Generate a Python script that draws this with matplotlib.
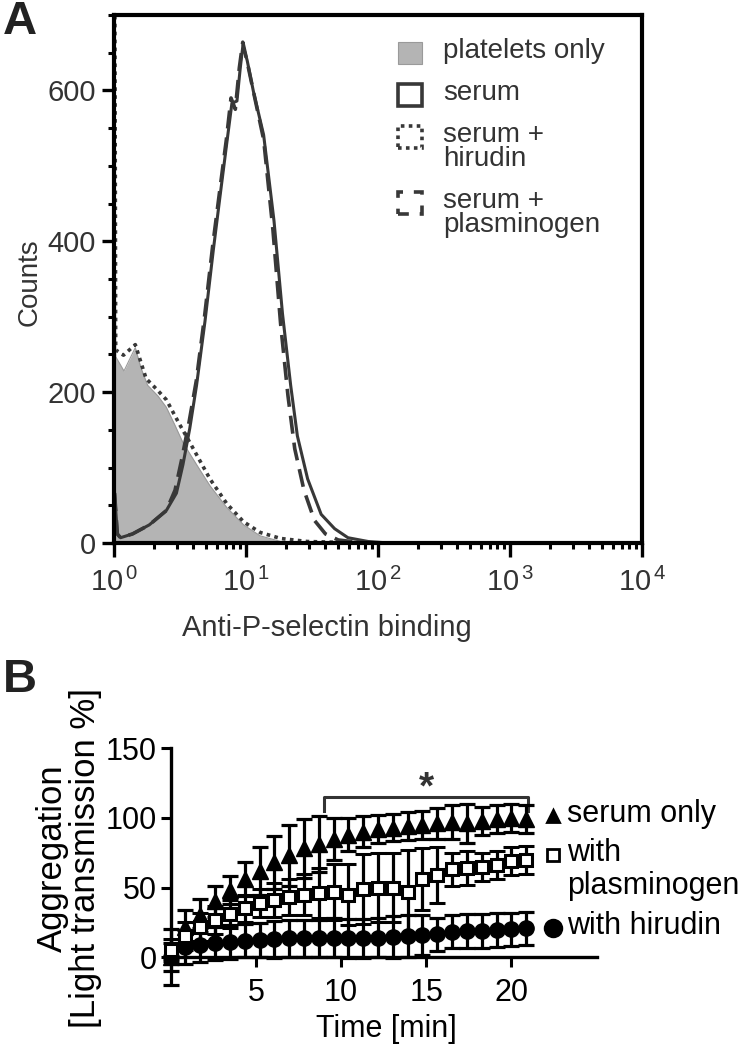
import numpy as np
import matplotlib
matplotlib.use("Agg")
import matplotlib.pyplot as plt
from matplotlib.patches import Rectangle
from matplotlib.lines import Line2D
from matplotlib.ticker import FixedLocator, FuncFormatter, LogLocator, NullFormatter

plt.rcParams['font.family'] = ['Liberation Sans', 'DejaVu Sans']
plt.rcParams['mathtext.fontset'] = 'custom'
plt.rcParams['mathtext.rm'] = 'Liberation Sans'

W, H = 742, 1046
def fx(px):
    return px / W
def fy(py):
    return 1 - py / H

# ---- panel A: flow cytometry histograms ----
platelets_x = [1.012, 1.03, 1.19, 1.30, 1.45, 1.60, 1.80, 2.15, 2.49, 2.88, 3.33, 4.22,
               5.33, 7.16, 9.6, 12.8, 18.3, 26, 40, 10000]
platelets_counts = [720, 247, 228, 242, 259, 232, 209, 195, 180, 157, 133, 104,
                    76, 47, 24, 9.5, 2, 1, 0, 0]

hirudin_hist_x = [1.015, 1.03, 1.18, 1.45, 1.75, 2.1, 2.49, 3.1, 3.9, 5.33, 7.16, 9.6,
                  12.8, 18.3, 29, 47, 100, 10000]
hirudin_hist_counts = [720, 256, 249, 263, 218, 204, 190, 159, 128, 85, 52, 28,
                       14, 6, 2, 1, 0, 0]

serum_x = [1.01, 1.06, 1.12, 1.38, 1.85, 2.49, 2.97, 3.33, 3.75, 4.22, 4.89, 5.66, 6.36,
           7.16, 7.82, 8.54, 9.05, 9.48, 10.2, 11.4, 13.6, 16.3, 18.9, 21.8, 24.5, 29.3,
           37.1, 46.9, 59.2, 84.2, 120, 10000]
serum_counts = [66, 12, 7, 12, 24, 43, 66, 104, 152, 209, 294, 389, 460,
                531, 583, 586, 630, 660, 640, 598, 541, 427, 304, 209, 142, 85,
                38, 19, 7, 2, 0, 0]

plasmin_x = [1.01, 1.06, 1.12, 1.38, 1.85, 2.49, 2.9, 3.25, 3.7, 4.2, 4.85, 5.6, 6.3,
             7.1, 7.7, 8.3, 8.9, 9.45, 10.2, 11.4, 13.6, 16.0, 18.3, 20.8, 23.4, 27.5,
             33.0, 40.0, 50.0, 70.0, 100, 10000]
plasmin_counts = [66, 12, 7, 12, 24, 43, 70, 110, 160, 215, 300, 395, 465,
                  535, 590, 575, 630, 664, 638, 598, 535, 415, 290, 195, 125, 70,
                  30, 12, 4, 1, 0, 0]

legend_a_labels = ["platelets only", "serum", "serum +\nhirudin", "serum +\nplasminogen"]

# ---- panel B: aggregation time course ----
time_min = [0.0, 0.87, 1.74, 2.61, 3.48, 4.35, 5.22, 6.09, 6.96, 7.83, 8.70, 9.57, 10.43,
            11.30, 12.17, 13.04, 13.91, 14.78, 15.65, 16.52, 17.39, 18.26, 19.13, 20.0, 20.87]

serum_only = [0, 22, 30, 40, 48.5, 56, 62, 68, 73, 78, 81, 85, 88,
              90, 92, 93, 94, 95, 96, 97, 96, 98, 99, 100, 99]
serum_only_err = [20, 12, 12, 11, 10, 12, 17, 19, 22, 21, 20, 15, 12,
                  11, 10, 10, 10, 10, 11, 12, 14, 10, 10, 10, 10]

plasminogen = [5, 15, 22, 27, 31, 35, 39, 41, 43, 45, 46, 47, 45,
               49, 50, 50, 47, 56, 59, 63, 64, 65, 66, 69, 70]
plasminogen_err = [8, 10, 10, 10, 10, 10, 10, 12, 13, 15, 18, 20, 22,
                   25, 25, 25, 30, 22, 20, 12, 12, 10, 10, 10, 10]

hirudin = [0, 7.5, 8.7, 10, 11, 12, 12.3, 12.8, 13.5, 13.5, 13.5, 14, 13.5,
           13.5, 14, 14.7, 15.2, 16, 16.4, 18.4, 18.8, 19, 19.6, 20, 20.8]
hirudin_err = [10, 12, 12, 12, 12, 12, 12, 13, 13, 13, 13, 14, 14,
               14, 14, 15, 15, 14, 12, 12, 12, 12, 12, 12, 12]

legend_b_labels = ["serum only", "with\nplasminogen", "with hirudin"]
sig_range = (9.0, 21.0)
sig_level = 115

gray_txt = '#333333'
line_c = '#383838'

fig = plt.figure(figsize=(W / 100, H / 100), dpi=100)

# ================= Panel A =================
axA = fig.add_axes([fx(114), fy(543), fx(642) - fx(114), fy(15) - fy(543)])
axA.fill_between(platelets_x, platelets_counts, 0, color='#b4b4b4', lw=0, zorder=1)
axA.plot(platelets_x, platelets_counts, color='#9a9a9a', lw=0.8, zorder=1.5)
axA.plot(hirudin_hist_x, hirudin_hist_counts, color=line_c, lw=2.6, ls=(0, (1, 1.2)), zorder=2)
axA.plot(plasmin_x, plasmin_counts, color=line_c, lw=2.6, ls=(0, (5, 2.5)), zorder=2)
axA.plot(serum_x, serum_counts, color=line_c, lw=2.2, zorder=2.2)

axA.set_xscale('log')
axA.set_xlim(1, 1e4)
axA.set_ylim(0, 700)
axA.yaxis.set_major_locator(FixedLocator([0, 200, 400, 600]))
axA.yaxis.set_minor_locator(FixedLocator(np.arange(0, 701, 50)))
axA.xaxis.set_major_locator(FixedLocator([1, 10, 100, 1000, 10000]))
axA.xaxis.set_minor_locator(LogLocator(base=10, subs=np.arange(2, 10), numticks=20))
axA.xaxis.set_minor_formatter(NullFormatter())
axA.xaxis.set_major_formatter(FuncFormatter(lambda v, p: r'$\mathregular{10^{\,%d}}$' % round(np.log10(v))))
for s in axA.spines.values():
    s.set_linewidth(3.0)
    s.set_color('black')
axA.tick_params(which='major', direction='out', length=9, width=2.4, color='black',
                labelsize=21, labelcolor=gray_txt, pad=4)
axA.tick_params(which='minor', direction='out', length=4.5, width=2.2, color='black')
axA.tick_params(axis='x', which='major', length=10, pad=8)

fig.text(fx(30), fy(282), "Counts", rotation=90, ha='center', va='center',
         fontsize=20, color=gray_txt)
fig.text(fx(327), fy(628), "Anti-P-selectin binding", ha='center', va='center',
         fontsize=21, color=gray_txt)
fig.text(fx(3), fy(22), "A", ha='left', va='center', fontsize=34, fontweight='bold',
         color='#222222')

# legend A (drawn by hand so the key sits beside the first text line)
key_styles = [dict(fc='#b4b4b4', ec='#9a9a9a', lw=0.8),
              dict(fc='none', ec=line_c, lw=2.6),
              dict(fc='none', ec=line_c, lw=2.6, ls=(0, (1, 1.2))),
              dict(fc='none', ec=line_c, lw=2.6, ls=(0, (3, 3)))]
key_rows = [53, 95, 137, 203]
for style, lab, yc in zip(key_styles, legend_a_labels, key_rows):
    fig.patches.append(Rectangle((fx(398), fy(yc + 11)), fx(24), fy(0) - fy(22),
                                 transform=fig.transFigure, **style))
    fig.text(fx(443), fy(yc - 15), lab, ha='left', va='top', fontsize=20,
             color=gray_txt, linespacing=0.92)

# ================= Panel B =================
narrow = ['Liberation Sans Narrow', 'Liberation Sans', 'DejaVu Sans']
axB = fig.add_axes([fx(170.6), fy(988), fx(596.6) - fx(170.6), fy(748) - fy(988)])
eb = dict(color='black', elinewidth=2.3, capsize=6, capthick=2.3, ls='none')
conts = []
conts.append(axB.errorbar(time_min, serum_only, yerr=serum_only_err, marker='^', ms=11,
                          mfc='black', mec='black', zorder=3, **eb))
conts.append(axB.errorbar(time_min, hirudin, yerr=hirudin_err, marker='o', ms=11,
                          mfc='black', mec='black', zorder=3, **eb))
conts.append(axB.errorbar(time_min, plasminogen, yerr=plasminogen_err, marker='s', ms=8.5,
                          mfc='white', mec='black', mew=2.2, zorder=4, **eb))
for c in conts:
    for art in c.get_children():
        art.set_clip_on(False)

# significance bracket
axB.plot([sig_range[0], sig_range[0], sig_range[1], sig_range[1]],
         [sig_level - 10, sig_level, sig_level, sig_level - 10], color='#333333', lw=2.2,
         clip_on=False)
axB.text(np.mean(sig_range), sig_level + 6, "*", ha='center', va='center', fontsize=28,
         fontweight='bold', color='#333333')

axB.set_xlim(0, 25)
axB.set_ylim(-22, 150)
axB.spines['top'].set_visible(False)
axB.spines['right'].set_visible(False)
axB.spines['bottom'].set_position(('data', 0))
axB.spines['left'].set_bounds(0, 150)
for s in ('left', 'bottom'):
    axB.spines[s].set_linewidth(2.4)
axB.set_xticks([5, 10, 15, 20])
axB.set_yticks([0, 50, 100, 150])
axB.tick_params(direction='out', length=7, width=2.2, labelsize=22, pad=3)
for lab in axB.get_xticklabels() + axB.get_yticklabels():
    lab.set_family(narrow)
axB.xaxis.set_tick_params(pad=8)

fig.text(fx(386), fy(1029), "Time [min]", ha='center', va='center', fontsize=22,
         family=narrow)
fig.text(fx(69), fy(858), "Aggregation\n[Light transmission %]", rotation=90,
         ha='center', va='center', fontsize=25, family=narrow, linespacing=1.0)
fig.text(fx(3), fy(680), "B", ha='left', va='center', fontsize=34, fontweight='bold',
         color='#222222')

# legend B
key_markers = [('^', 8, 'black'), ('s', 9, 'white'), ('o', 12, 'black')]
legB_rows = [816, 855, 928]
for (m, ms, fc), lab, yc in zip(key_markers, legend_b_labels, legB_rows):
    fig.add_artist(Line2D([fx(553)], [fy(yc)], marker=m, ms=ms, mfc=fc, mec='black',
                          mew=2.0, transform=fig.transFigure))
    fig.text(fx(567), fy(yc - 17), lab, ha='left', va='top', fontsize=22,
             family=narrow, linespacing=1.15)

fig.savefig("out.png", dpi=100)
